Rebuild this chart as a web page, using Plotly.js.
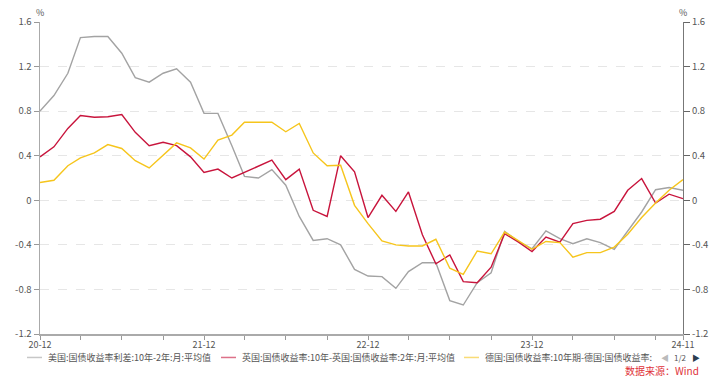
<!DOCTYPE html>
<html>
<head>
<meta charset="utf-8">
<script src="https://cdn.plot.ly/plotly-3.0.1.min.js"></script>
<style>
html,body{margin:0;padding:0;background:#fff;}
#chart{width:723px;height:382px;}
</style>
</head>
<body>
<div id="chart"></div>
<script>
// Months 2020-12 .. 2024-11
const months = ["2020-12","2021-01","2021-02","2021-03","2021-04","2021-05","2021-06","2021-07","2021-08","2021-09","2021-10","2021-11",
"2021-12","2022-01","2022-02","2022-03","2022-04","2022-05","2022-06","2022-07","2022-08","2022-09","2022-10","2022-11",
"2022-12","2023-01","2023-02","2023-03","2023-04","2023-05","2023-06","2023-07","2023-08","2023-09","2023-10","2023-11",
"2023-12","2024-01","2024-02","2024-03","2024-04","2024-05","2024-06","2024-07","2024-08","2024-09","2024-10","2024-11"];

const seriesNames = [
  "美国:国债收益率利差:10年-2年:月:平均值",
  "英国:国债收益率:10年-英国:国债收益率:2年:月:平均值",
  "德国:国债收益率:10年期-德国:国债收益率:"
];

const usSpread = [0.80,0.94,1.14,1.46,1.47,1.47,1.32,1.10,1.06,1.14,1.18,1.06,
0.78,0.78,0.49,0.215,0.20,0.275,0.135,-0.145,-0.36,-0.345,-0.40,-0.62,
-0.68,-0.685,-0.79,-0.64,-0.56,-0.56,-0.90,-0.94,-0.74,-0.65,-0.28,-0.37,
-0.435,-0.275,-0.345,-0.39,-0.345,-0.38,-0.44,-0.27,-0.105,0.095,0.115,0.09];

const ukSpread = [0.39,0.48,0.645,0.76,0.745,0.75,0.77,0.61,0.49,0.52,0.49,0.39,
0.25,0.28,0.20,0.25,0.30,0.36,0.185,0.28,-0.09,-0.145,0.40,0.255,
-0.155,0.045,-0.10,0.075,-0.31,-0.57,-0.49,-0.73,-0.74,-0.60,-0.30,-0.375,
-0.46,-0.33,-0.375,-0.21,-0.18,-0.17,-0.10,0.09,0.195,-0.025,0.055,0.015];

const deSpread = [0.16,0.18,0.31,0.38,0.425,0.50,0.465,0.355,0.29,0.40,0.515,0.47,
0.37,0.54,0.585,0.70,0.70,0.70,0.615,0.69,0.425,0.31,0.315,-0.045,
-0.21,-0.365,-0.40,-0.41,-0.41,-0.35,-0.61,-0.665,-0.455,-0.48,-0.285,-0.36,
-0.44,-0.37,-0.38,-0.51,-0.47,-0.47,-0.42,-0.305,-0.155,-0.025,0.09,0.185];

const xTickVals = ["2020-12-01","2021-12-01","2022-12-01","2023-12-01","2024-11-01"];
const xTickText = ["20-12","21-12","22-12","23-12","24-11"];
const yTickVals = [-1.2,-0.8,-0.4,0,0.4,0.8,1.2,1.6];
const yTickText = ["-1.2","-0.8","-0.4","0","0.4","0.8","1.2","1.6"];

const colors = ["#a3a3a3","#c8143c","#f6c51c"];
const font = "'Noto Sans CJK SC', 'Noto Sans', sans-serif";

const xs = months.map(m => m + "-01");
const allSeries = [usSpread, ukSpread, deSpread];

const traces = allSeries.map((ys, k) => ({
  type: "scatter", mode: "lines", x: xs, y: ys, name: seriesNames[k],
  line: {color: colors[k], width: 1.4}, showlegend: false, hoverinfo: "skip"
}));
traces.push({type:"scatter", mode:"lines", x:[xs[0]], y:[null], yaxis:"y2", showlegend:false, hoverinfo:"skip"});

// custom legend
const shapes = [];
const annotations = [];
const L = 40, R = 40;
const pw = 723 - L - R;
const legendPx = [27, 221, 464];
const legY = 358;
const T = 22, B = 47.5, ph = 382 - T - B;
const toPX = p => (p - L) / pw;
const toPY = p => 1 - (p - T) / ph;
legendPx.forEach((p, k) => {
  shapes.push({type:"line", xref:"paper", yref:"paper", x0: toPX(p), x1: toPX(p+15), y0: toPY(legY), y1: toPY(legY),
    line:{color: colors[k], width: 1.5}, opacity: 0.6});
  annotations.push({xref:"paper", yref:"paper", x: toPX(p+19), y: toPY(legY), xanchor:"left", yanchor:"middle",
    text: seriesNames[k], showarrow:false, font:{family:font, size:9, color:"#555"}});
});
annotations.push({xref:"paper", yref:"paper", x: toPX(659), y: toPY(legY), xanchor:"left", yanchor:"middle",
  text:"◀", showarrow:false, font:{family:font, size:8, color:"#bbb"}});
annotations.push({xref:"paper", yref:"paper", x: toPX(672), y: toPY(legY), xanchor:"left", yanchor:"middle",
  text:"1/2", showarrow:false, font:{family:font, size:8, color:"#555"}});
annotations.push({xref:"paper", yref:"paper", x: toPX(690), y: toPY(legY), xanchor:"left", yanchor:"middle",
  text:"▶", showarrow:false, font:{family:font, size:8, color:"#2c3e50"}});
annotations.push({xref:"paper", yref:"paper", x: toPX(701), y: toPY(371.5), xanchor:"right", yanchor:"middle",
  text:"数据来源：Wind", showarrow:false, font:{family:font, size:10, color:"#e0323a"}});
annotations.push({xref:"paper", yref:"paper", x: toPX(40), y: toPY(12), xanchor:"center", yanchor:"middle",
  text:"%", showarrow:false, font:{family:font, size:9, color:"#555"}});
annotations.push({xref:"paper", yref:"paper", x: toPX(683), y: toPY(12), xanchor:"center", yanchor:"middle",
  text:"%", showarrow:false, font:{family:font, size:9, color:"#555"}});

const layout = {
  width: 723, height: 382,
  margin: {l: L, r: R, t: T, b: B, pad: 0},
  paper_bgcolor: "#fff", plot_bgcolor: "#fff",
  font: {family: font, size: 9, color: "#555"},
  showlegend: false,
  xaxis: {
    type: "date", range: [xs[0], xs[xs.length-1]],
    tickvals: xTickVals, ticktext: xTickText,
    ticks: "outside", ticklen: 4, tickcolor: "#999", tickwidth: 1,
    ticklabelstandoff: -2,
    showline: true, linecolor: "#aaa", linewidth: 1.5,
    showgrid: false, zeroline: false,
    tickfont: {family: font, size: 9, color: "#555"},
    minor: {dtick: "M3", tick0: "2020-12-01", ticks: "outside", ticklen: 4, tickcolor: "#999", showgrid: false}
  },
  yaxis: {
    range: [-1.2, 1.6], tickvals: yTickVals, ticktext: yTickText,
    ticks: "outside", ticklen: 5, tickcolor: "#999",
    showline: true, linecolor: "#aaa", linewidth: 1.5,
    showgrid: true, gridcolor: "#e6e6e6", griddash: "dash", gridwidth: 1,
    zeroline: false,
    tickfont: {family: font, size: 9.5, color: "#555"}
  },
  yaxis2: {
    overlaying: "y", side: "right", range: [-1.2, 1.6],
    tickvals: yTickVals, ticktext: yTickText,
    ticks: "outside", ticklen: 6, tickcolor: "#666",
    showline: true, linecolor: "#777", linewidth: 1,
    showgrid: false, zeroline: false,
    tickfont: {family: font, size: 9.5, color: "#555"}
  },
  shapes: shapes,
  annotations: annotations
};

Plotly.newPlot("chart", traces, layout, {displayModeBar: false, staticPlot: true});
</script>
</body>
</html>
